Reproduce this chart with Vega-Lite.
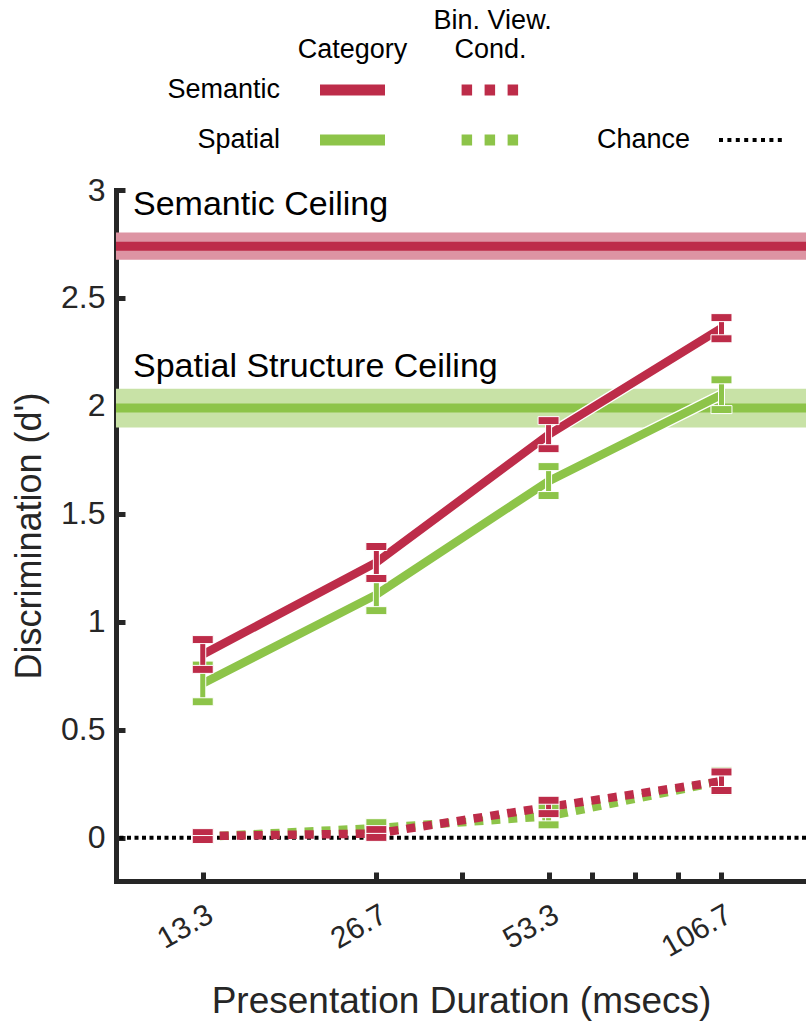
{
  "$schema": "https://vega.github.io/schema/vega-lite/v6.json",
  "width": 690,
  "height": 691,
  "autosize": {"type": "none"},
  "padding": {"left": 116, "top": 190, "right": 0, "bottom": 142},
  "background": "white",
  "config": {
    "font": "Liberation Sans",
    "view": {"stroke": null},
    "axis": {
      "grid": false,
      "domainColor": "#262626",
      "domainWidth": 5,
      "domainCap": "square",
      "tickColor": "#262626",
      "tickWidth": 5,
      "tickSize": -9,
      "labelColor": "#262626",
      "titleColor": "#262626",
      "titleFontWeight": "normal"
    }
  },
  "datasets": {
    "ceilings": [
      {"category": "Semantic", "label": "Semantic Ceiling", "value": 2.74, "lower": 2.677, "upper": 2.803},
      {"category": "Spatial", "label": "Spatial Structure Ceiling", "value": 1.99, "lower": 1.9, "upper": 2.08}
    ],
    "chance": [{"label": "Chance", "value": 0}],
    "results": [
      {"duration": 13.3, "category": "Spatial", "condition": "Category", "dprime": 0.715, "lower": 0.63, "upper": 0.8},
      {"duration": 26.7, "category": "Spatial", "condition": "Category", "dprime": 1.126, "lower": 1.052, "upper": 1.2},
      {"duration": 53.3, "category": "Spatial", "condition": "Category", "dprime": 1.652, "lower": 1.585, "upper": 1.719},
      {"duration": 106.7, "category": "Spatial", "condition": "Category", "dprime": 2.052, "lower": 1.983, "upper": 2.121},
      {"duration": 13.3, "category": "Spatial", "condition": "Bin. View. Cond.", "dprime": 0.005, "lower": -0.005, "upper": 0.015},
      {"duration": 26.7, "category": "Spatial", "condition": "Bin. View. Cond.", "dprime": 0.045, "lower": 0.02, "upper": 0.07},
      {"duration": 53.3, "category": "Spatial", "condition": "Bin. View. Cond.", "dprime": 0.1, "lower": 0.06, "upper": 0.14},
      {"duration": 106.7, "category": "Spatial", "condition": "Bin. View. Cond.", "dprime": 0.262, "lower": 0.214, "upper": 0.31},
      {"duration": 13.3, "category": "Semantic", "condition": "Category", "dprime": 0.849, "lower": 0.78, "upper": 0.918},
      {"duration": 26.7, "category": "Semantic", "condition": "Category", "dprime": 1.275, "lower": 1.201, "upper": 1.349},
      {"duration": 53.3, "category": "Semantic", "condition": "Category", "dprime": 1.867, "lower": 1.802, "upper": 1.932},
      {"duration": 106.7, "category": "Semantic", "condition": "Category", "dprime": 2.36, "lower": 2.311, "upper": 2.409},
      {"duration": 13.3, "category": "Semantic", "condition": "Bin. View. Cond.", "dprime": 0.008, "lower": -0.008, "upper": 0.024},
      {"duration": 26.7, "category": "Semantic", "condition": "Bin. View. Cond.", "dprime": 0.02, "lower": 0.002, "upper": 0.038},
      {"duration": 53.3, "category": "Semantic", "condition": "Bin. View. Cond.", "dprime": 0.143, "lower": 0.112, "upper": 0.174},
      {"duration": 106.7, "category": "Semantic", "condition": "Bin. View. Cond.", "dprime": 0.262, "lower": 0.219, "upper": 0.305}
    ],
    "legendSwatches": [
      {"row": "Semantic", "col": "Category"},
      {"row": "Semantic", "col": "Bin. View. Cond."},
      {"row": "Spatial", "col": "Category"},
      {"row": "Spatial", "col": "Bin. View. Cond."}
    ],
    "legendHeaders": [
      {"col": "Category", "line": "second", "text": "Category"},
      {"col": "Bin. View. Cond.", "line": "first", "text": "Bin. View."},
      {"col": "Bin. View. Cond.", "line": "second", "text": "Cond."}
    ]
  },
  "layer": [
    {
      "layer": [
        {
          "data": {"name": "ceilings"},
          "mark": {"type": "rect"},
          "encoding": {
            "y": {
              "field": "lower", "type": "quantitative",
              "scale": {"domain": [-0.2, 3], "nice": false, "zero": false},
              "axis": {
                "title": "Discrimination (d')",
                "values": [0, 0.5, 1, 1.5, 2, 2.5, 3],
                "format": "~g",
                "labelFontSize": 32,
                "labelPadding": 20,
                "titleFontSize": 36,
                "titleX": -87,
                "titleBaseline": "middle"
              }
            },
            "y2": {"field": "upper"},
            "fill": {"field": "category", "type": "nominal", "scale": {"domain": ["Semantic", "Spatial"], "range": ["#dd94a3", "#c8e2a6"]}, "legend": null}
          }
        },
        {
          "data": {"name": "ceilings"},
          "mark": {"type": "rule", "strokeWidth": 9},
          "encoding": {
            "y": {"field": "value", "type": "quantitative"},
            "color": {"field": "category", "type": "nominal", "scale": {"domain": ["Semantic", "Spatial"], "range": ["#bd2c49", "#8dc449"]}, "legend": null}
          }
        },
        {
          "data": {"name": "ceilings"},
          "mark": {"type": "text", "align": "left", "baseline": "alphabetic", "dx": 17, "dy": -31, "fontSize": 34, "color": "#000000"},
          "encoding": {
            "x": {"datum": 9.389, "type": "quantitative"},
            "y": {"field": "value", "type": "quantitative"},
            "text": {"field": "label"}
          }
        },
        {
          "data": {"name": "chance"},
          "mark": {"type": "rule", "strokeWidth": 4, "strokeDash": [4, 3.5], "color": "#000000"},
          "encoding": {"y": {"field": "value", "type": "quantitative"}}
        },
        {
          "data": {"name": "results"},
          "transform": [{"filter": "datum.condition === 'Category'"}],
          "mark": {"type": "line", "strokeWidth": 11, "color": "white"},
          "encoding": {
            "x": {
              "field": "duration", "type": "quantitative",
              "scale": {"type": "log", "base": 2, "domain": [9.389, 149.8], "nice": false},
              "axis": {
                "title": "Presentation Duration (msecs)",
                "values": [13.3, 26.7, 37.7, 53.3, 63.4, 75.4, 89.7, 106.7],
                "labelExpr": "(datum.value == 13.3 || datum.value == 26.7 || datum.value == 53.3 || datum.value == 106.7) ? format(datum.value, '.1f') : ''",
                "labelAngle": -30,
                "labelFontSize": 30,
                "labelPadding": 27,
                "labelOverlap": false,
                "labelFlush": false,
                "titleFontSize": 37,
                "titleY": 131,
                "titleBaseline": "alphabetic"
              }
            },
            "y": {"field": "dprime", "type": "quantitative"},
            "detail": {"field": "category"}
          }
        },
        {
          "data": {"name": "results"},
          "transform": [{"filter": "datum.condition === 'Category'"}],
          "mark": {"type": "line", "strokeWidth": 8.5},
          "encoding": {
            "x": {"field": "duration", "type": "quantitative"},
            "y": {"field": "dprime", "type": "quantitative"},
            "color": {"field": "category", "type": "nominal", "legend": null}
          }
        },
        {
          "data": {"name": "results"},
          "transform": [{"filter": "datum.condition !== 'Category'"}],
          "mark": {"type": "line", "strokeWidth": 8.5, "strokeDash": [9, 8], "strokeCap": "butt"},
          "encoding": {
            "x": {"field": "duration", "type": "quantitative"},
            "y": {"field": "dprime", "type": "quantitative"},
            "color": {"field": "category", "type": "nominal", "legend": null}
          }
        },
        {
          "data": {"name": "results"},
          "transform": [{"filter": "datum.category === 'Spatial'"}],
          "layer": [
            {
              "mark": {"type": "rule", "strokeWidth": 7, "color": "white"},
              "encoding": {
                "x": {"field": "duration", "type": "quantitative"},
                "y": {"field": "lower", "type": "quantitative"},
                "y2": {"field": "upper"}
              }
            },
            {
              "mark": {"type": "rule", "strokeWidth": 5},
              "encoding": {
                "x": {"field": "duration", "type": "quantitative"},
                "y": {"field": "lower", "type": "quantitative"},
                "y2": {"field": "upper"},
                "color": {"field": "category", "type": "nominal", "legend": null}
              }
            },
            {
              "mark": {"type": "tick", "orient": "horizontal", "size": 21, "thickness": 8, "opacity": 1, "filled": true, "stroke": "white", "strokeWidth": 1, "strokeOpacity": 1},
              "encoding": {
                "x": {"field": "duration", "type": "quantitative"},
                "y": {"field": "upper", "type": "quantitative"},
                "color": {"field": "category", "type": "nominal", "legend": null}
              }
            },
            {
              "mark": {"type": "tick", "orient": "horizontal", "size": 21, "thickness": 8, "opacity": 1, "filled": true, "stroke": "white", "strokeWidth": 1, "strokeOpacity": 1},
              "encoding": {
                "x": {"field": "duration", "type": "quantitative"},
                "y": {"field": "lower", "type": "quantitative"},
                "color": {"field": "category", "type": "nominal", "legend": null}
              }
            }
          ]
        },
        {
          "data": {"name": "results"},
          "transform": [{"filter": "datum.category === 'Semantic'"}],
          "layer": [
            {
              "mark": {"type": "rule", "strokeWidth": 7, "color": "white"},
              "encoding": {
                "x": {"field": "duration", "type": "quantitative"},
                "y": {"field": "lower", "type": "quantitative"},
                "y2": {"field": "upper"}
              }
            },
            {
              "mark": {"type": "rule", "strokeWidth": 5},
              "encoding": {
                "x": {"field": "duration", "type": "quantitative"},
                "y": {"field": "lower", "type": "quantitative"},
                "y2": {"field": "upper"},
                "color": {"field": "category", "type": "nominal", "legend": null}
              }
            },
            {
              "mark": {"type": "tick", "orient": "horizontal", "size": 21, "thickness": 8, "opacity": 1, "filled": true, "stroke": "white", "strokeWidth": 1, "strokeOpacity": 1},
              "encoding": {
                "x": {"field": "duration", "type": "quantitative"},
                "y": {"field": "upper", "type": "quantitative"},
                "color": {"field": "category", "type": "nominal", "legend": null}
              }
            },
            {
              "mark": {"type": "tick", "orient": "horizontal", "size": 21, "thickness": 8, "opacity": 1, "filled": true, "stroke": "white", "strokeWidth": 1, "strokeOpacity": 1},
              "encoding": {
                "x": {"field": "duration", "type": "quantitative"},
                "y": {"field": "lower", "type": "quantitative"},
                "color": {"field": "category", "type": "nominal", "legend": null}
              }
            }
          ]
        }
      ]
    },
    {
      "layer": [
        {
          "data": {"name": "legendSwatches"},
          "transform": [{"filter": "datum.col === 'Category'"}],
          "mark": {"type": "rule", "strokeWidth": 11, "xOffset": -32.5, "x2Offset": 32.5, "strokeCap": "butt"},
          "encoding": {
            "x": {"field": "col", "type": "nominal", "scale": {"type": "point", "domain": ["Category", "Bin. View. Cond."], "range": [236.5, 374.6], "padding": 0}, "axis": null},
            "x2": {"field": "col"},
            "y": {"field": "row", "type": "nominal", "scale": {"type": "point", "domain": ["Semantic", "Spatial"], "range": [-100, -50], "padding": 0}, "axis": null},
            "color": {"field": "row", "type": "nominal", "legend": null}
          }
        },
        {
          "data": {"name": "legendSwatches"},
          "transform": [{"filter": "datum.col !== 'Category'"}],
          "mark": {"type": "rule", "strokeWidth": 11, "xOffset": -29, "x2Offset": 29, "strokeDash": [10.5, 12.5], "strokeCap": "butt"},
          "encoding": {
            "x": {"field": "col", "type": "nominal"},
            "x2": {"field": "col"},
            "y": {"field": "row", "type": "nominal"},
            "color": {"field": "row", "type": "nominal", "legend": null}
          }
        },
        {
          "data": {"name": "legendSwatches"},
          "transform": [{"filter": "datum.col === 'Category'"}],
          "mark": {"type": "text", "align": "right", "baseline": "middle", "dx": -72.5, "fontSize": 27, "color": "#000000"},
          "encoding": {
            "x": {"field": "col", "type": "nominal"},
            "y": {"field": "row", "type": "nominal"},
            "text": {"field": "row"}
          }
        },
        {
          "data": {"name": "legendHeaders"},
          "transform": [{"filter": "datum.line === 'second'"}],
          "mark": {"type": "text", "align": "center", "baseline": "bottom", "dy": -26, "fontSize": 27, "color": "#000000"},
          "encoding": {
            "x": {"field": "col", "type": "nominal"},
            "y": {"datum": "Semantic", "type": "nominal"},
            "text": {"field": "text"}
          }
        },
        {
          "data": {"name": "legendHeaders"},
          "transform": [{"filter": "datum.line === 'first'"}],
          "mark": {"type": "text", "align": "center", "baseline": "bottom", "dy": -55, "dx": 2, "fontSize": 27, "color": "#000000"},
          "encoding": {
            "x": {"field": "col", "type": "nominal"},
            "y": {"datum": "Semantic", "type": "nominal"},
            "text": {"field": "text"}
          }
        },
        {
          "data": {"name": "chance"},
          "mark": {"type": "text", "align": "right", "baseline": "middle", "dx": 199.4, "fontSize": 27, "color": "#000000"},
          "encoding": {
            "x": {"datum": "Bin. View. Cond.", "type": "nominal"},
            "y": {"datum": "Spatial", "type": "nominal"},
            "text": {"field": "label"}
          }
        },
        {
          "data": {"name": "chance"},
          "mark": {"type": "rule", "strokeWidth": 4, "strokeDash": [4, 4.4], "strokeCap": "butt", "color": "#000000", "xOffset": 228.4, "x2Offset": 291.2},
          "encoding": {
            "x": {"datum": "Bin. View. Cond.", "type": "nominal"},
            "x2": {"datum": "Bin. View. Cond."},
            "y": {"datum": "Spatial", "type": "nominal"}
          }
        }
      ]
    }
  ],
  "resolve": {"scale": {"x": "independent", "y": "independent"}}
}
